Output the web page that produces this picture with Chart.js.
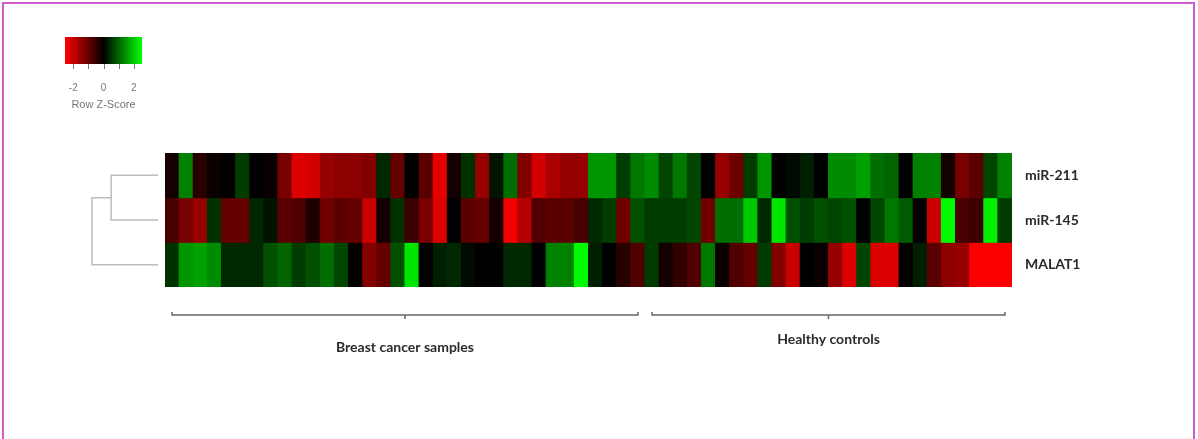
<!DOCTYPE html>
<html>
<head>
<meta charset="utf-8">
<script src="https://cdn.jsdelivr.net/npm/chart.js@4.4.0/dist/chart.umd.min.js"></script>
<style>
    html, body { margin: 0; padding: 0; background: #ffffff; }
    #wrap { position: relative; width: 1198px; height: 439px; overflow: hidden; }
    #frame { position: absolute; left: 2px; top: 2px; width: 1193px; height: 480px; border: 2px solid #d05ad0; box-sizing: border-box; }
    #heatmap { position: absolute; left: 0; top: 0; }
</style>
</head>
<body>
<div id="wrap">
    <div id="frame"></div>
    <canvas id="heatmap" width="1198" height="439"></canvas>
</div>
<script>
// Rows (top to bottom) and samples
const rowNames = ['miR-211', 'miR-145', 'MALAT1'];
const sampleIds = Array.from({ length: 60 }, (_, i) => 'S' + (i + 1));

// Row z-scores, one per sample
const mir211 = [-0.2, 1.3, -0.4, -0.1, 0, 0.6, 0, -0.1, -1.2, -2.2,
    -2.1, -1.5, -1.4, -1.4, -1.3, 0.4, -1.0, 0, -0.9, -2.3,
    -0.2, 0.5, -1.5, 0.2, 1.1, -1.3, -2.1, -1.7, -1.5, -1.5,
    1.5, 1.5, 0.6, 1.2, 1.4, 0.7, 1.2, 0.7, 0, -1.5,
    -1.1, 0.6, 1.5, 0, 0.1, 0.3, 0, 1.4, 1.4, 1.6,
    1.1, 1.0, 0, 1.3, 1.3, -0.2, -1.2, -0.9, 0.7, 1.3];
const mir145 = [-0.7, -1.2, -1.5, 0.5, -1.0, -1.0, 0.4, 0.2, -0.9, -0.8,
    -0.3, -1.1, -0.9, -1.0, -2.0, -0.2, 0.5, -0.6, -1.2, -2.2,
    0, -0.9, -1.0, -0.2, -2.4, -1.8, -0.8, -0.9, -0.9, -0.7,
    0.4, 0.6, -1.1, 0.8, 0.6, 0.6, 0.6, 0.7, -1.1, 1.1,
    1.1, 2.0, 0.4, 2.3, 0.8, 0.6, 0.8, 0.7, 0.8, 0,
    0.7, 1.2, 0.9, 0, -2.0, 2.5, -0.7, -0.6, 2.4, 0.6];
const malat1 = [0.5, 1.5, 1.6, 1.4, 0.4, 0.4, 0.4, 0.8, 1.0, 0.6,
    0.8, 1.1, 0.7, 0, -1.3, -1.0, 0.8, 2.3, 0, 0.3,
    0.4, 0.1, 0, 0, 0.4, 0.4, 0, 1.3, 1.3, 2.5,
    0.3, 0, -0.4, -0.8, 0.6, -0.2, -0.5, -0.8, 1.2, -0.1,
    -0.8, -1.0, 0.6, -1.3, -2.0, 0, -0.1, -1.5, -2.2, 0.7,
    -2.2, -2.2, 0, 0.3, -0.9, -1.4, -1.5, -2.5, -2.5, -2.5];

// Sample groups (first and last sample index)
const groupNames = ['Breast cancer samples', 'Healthy controls'];
const groupFirst = [0, 34];
const groupLast = [33, 59];

// Colour key
const keyTicks = [-2, -1, 0, 1, 2];
const keyLabels = [-2, 0, 2];
const keyLimit = 2.55;

// Row dendrogram merge heights (miR-211 + miR-145, then + MALAT1)
const mergeHeights = [0.71, 1.0];

// red - black - green scale
function zColor(v) {
    const t = Math.min(1, Math.abs(v) / keyLimit);
    const c = Math.round(255 * t);
    return v < 0 ? 'rgb(' + c + ',0,0)' : 'rgb(0,' + c + ',0)';
}

const rowValues = [mir211, mir145, malat1];

// Each row is a floating bar band: top row sits highest
const datasets = rowValues.map((vals, r) => {
    const lo = rowNames.length - 1 - r;
    return {
        label: rowNames[r],
        data: vals.map(() => [lo, lo + 1]),
        backgroundColor: vals.map(zColor),
        borderWidth: 0,
        barPercentage: 1,
        categoryPercentage: 1,
        grouped: false,
        inflateAmount: 0.5
    };
});

// Dendrogram, brackets and colour key
const extras = {
    id: 'extras',
    afterDraw(chart) {
        const ctx = chart.ctx;
        const area = chart.chartArea;
        const x = chart.scales.x;
        const y = chart.scales.y;
        ctx.save();

        // dendrogram
        const rowY = rowNames.map((n, r) => y.getPixelForValue(rowNames.length - 1 - r + 0.5));
        const leafX = area.left - 7;
        const span = 66;
        const x1 = leafX - mergeHeights[0] * span;
        const x2 = leafX - mergeHeights[1] * span;
        const nodeY = (rowY[0] + rowY[1]) / 2;
        ctx.strokeStyle = '#bdbdbd';
        ctx.lineWidth = 1.5;
        ctx.beginPath();
        ctx.moveTo(leafX, rowY[0]); ctx.lineTo(x1, rowY[0]); ctx.lineTo(x1, rowY[1]); ctx.lineTo(leafX, rowY[1]);
        ctx.moveTo(x1, nodeY); ctx.lineTo(x2, nodeY); ctx.lineTo(x2, rowY[2]); ctx.lineTo(leafX, rowY[2]);
        ctx.stroke();

        // group brackets
        const labelOffset = [60, 52];
        groupNames.forEach((name, g) => {
            const xs = x.getPixelForValue(groupFirst[g]);
            const xe = x.getPixelForValue(groupLast[g]);
            const xm = (xs + xe) / 2;
            const by = area.bottom + 28;
            ctx.strokeStyle = '#666666';
            ctx.lineWidth = 1.5;
            ctx.beginPath();
            ctx.moveTo(xs, by - 3); ctx.lineTo(xs, by); ctx.lineTo(xe, by); ctx.lineTo(xe, by - 3);
            ctx.moveTo(xm, by); ctx.lineTo(xm, by + 4);
            ctx.stroke();
            ctx.fillStyle = '#2b2b2b';
            ctx.font = 'bold 14px Lato';
            ctx.textAlign = 'center';
            ctx.textBaseline = 'middle';
            ctx.fillText(name, xm, area.bottom + labelOffset[g]);
        });

        // colour key
        const kx = 65, kw = 77, ky = 37, kh = 27;
        const grad = ctx.createLinearGradient(kx, 0, kx + kw, 0);
        grad.addColorStop(0, zColor(-keyLimit));
        grad.addColorStop(0.5, zColor(0));
        grad.addColorStop(1, zColor(keyLimit));
        ctx.fillStyle = grad;
        ctx.fillRect(kx, ky, kw, kh);
        const kPix = v => kx + (v + keyLimit) / (2 * keyLimit) * kw;
        ctx.strokeStyle = '#777777';
        ctx.lineWidth = 1;
        ctx.beginPath();
        keyTicks.forEach(t => {
            ctx.moveTo(Math.round(kPix(t)) + 0.5, ky + kh);
            ctx.lineTo(Math.round(kPix(t)) + 0.5, ky + kh + 5);
        });
        ctx.stroke();
        ctx.fillStyle = '#777777';
        ctx.font = '10px "Liberation Sans"';
        ctx.textAlign = 'center';
        ctx.textBaseline = 'middle';
        keyLabels.forEach(t => ctx.fillText(String(t), kPix(t), 88));
        ctx.font = '11px "Liberation Sans"';
        ctx.fillText('Row Z-Score', kx + kw / 2, 105);

        ctx.restore();
    }
};

new Chart(document.getElementById('heatmap'), {
    type: 'bar',
    data: { labels: sampleIds, datasets: datasets },
    plugins: [extras],
    options: {
        responsive: false,
        animation: false,
        layout: { padding: { left: 165, top: 153, right: 86, bottom: 152 } },
        plugins: {
            legend: { display: false },
            tooltip: { enabled: false }
        },
        scales: {
            x: { display: false },
            y: {
                position: 'right',
                min: 0,
                max: 3,
                grid: { display: false, drawTicks: false },
                border: { display: false },
                afterFit: (scale) => { scale.width = 100; },
                afterBuildTicks: (scale) => {
                    scale.ticks = [0.5, 1.5, 2.5].map(v => ({ value: v }));
                },
                ticks: {
                    padding: 13,
                    color: '#2b2b2b',
                    font: { family: 'Lato', weight: 'bold', size: 14 },
                    callback: (v) => rowNames[rowNames.length - 1 - Math.floor(v)]
                }
            }
        }
    }
});
</script>
</body>
</html>
